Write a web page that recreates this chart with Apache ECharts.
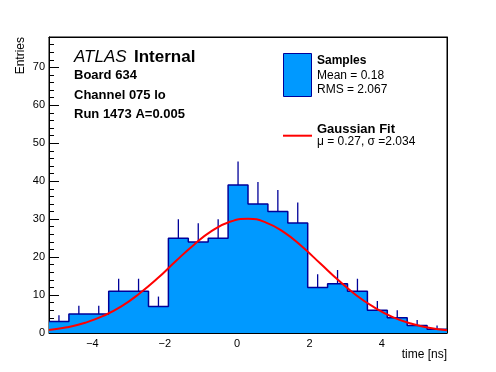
<!DOCTYPE html>
<html><head><meta charset="utf-8">
<script src="https://cdn.jsdelivr.net/npm/echarts@6/dist/echarts.min.js"></script>
<style>html,body{margin:0;padding:0;background:#fff}#c{width:496px;height:372px}</style>
</head><body><div id="c"></div>
<script>
// ---- data ----
const binEdges = [-5.2,-4.65,-4.1,-3.55,-3.0,-2.45,-1.9,-1.35,-0.8,-0.25,0.3,0.85,1.4,1.95,2.5,3.05,3.6,4.15,4.7,5.25,5.8];
const counts   = [3,5,5,11,11,7,25,24,25,39,34,32,29,12,13,11,6,4,2,1];
const errUp    = [1.7,2.2,2.2,3.3,3.3,2.6,5.0,4.9,5.0,6.2,5.8,5.7,5.4,3.5,3.6,3.3,2.4,2.0,1.4,1.0];
const fitX = [-5.2,-4.7,-4.2,-3.7,-3.2,-2.7,-2.2,-1.7,-1.2,-0.7,-0.2,0.3,0.8,1.3,1.8,2.3,2.8,3.3,3.8,4.3,4.8,5.3,5.8];
const fitY = [0.8,1.5,2.7,4.5,7.0,10.4,14.4,18.9,23.2,26.9,29.3,30.1,29.1,26.5,22.7,18.3,13.9,9.9,6.7,4.2,2.5,1.4,0.75];
const xMajorTicks = [-4,-2,0,2,4];
const xMinorTicks = [-5,-4.5,-4,-3.5,-3,-2.5,-2,-1.5,-1,-0.5,0,0.5,1,1.5,2,2.5,3,3.5,4,4.5,5,5.5];
const yMajorTicks = [0,10,20,30,40,50,60,70];
const yMinorTicks = [0,2,4,6,8,10,12,14,16,18,20,22,24,26,28,30,32,34,36,38,40,42,44,46,48,50,52,54,56,58,60,62,64,66,68,70,72,74,76];
const xRange = [-5.2, 5.8];
const yRange = [0, 78];

const FONT = "'Liberation Sans', Arial, Helvetica, sans-serif";
const FILL = '#0099ff', EDGE = '#000099';

const histData = binEdges.map((e, i) => [e, counts[Math.min(i, counts.length - 1)]]);
const errData = counts.map((c, i) => [(binEdges[i] + binEdges[i + 1]) / 2, c, c + errUp[i]]);
const fitData = fitX.map((x, i) => [x, fitY[i]]);

const chart = echarts.init(document.getElementById('c'), null, {renderer: 'canvas'});
const blank = {axisLine:{show:false}, axisTick:{show:false}, axisLabel:{show:false}, splitLine:{show:false}};
chart.setOption({
  animation: false,
  grid: {left: 49, right: 49, top: 37, bottom: 39, show: true, borderColor: '#000', borderWidth: 1, backgroundColor: 'transparent'},
  xAxis: [
    {type:'value', min:xRange[0], max:xRange[1], position:'bottom',
     axisLine:{show:true, onZero:false, lineStyle:{color:'#000', width:1}},
     axisTick:{show:true, inside:true, length:9, customValues:xMajorTicks, lineStyle:{color:'#000'}},
     axisLabel:{show:true, customValues:xMajorTicks, margin:5, fontSize:11, color:'#000', fontFamily:FONT,
       formatter: v => String(v).replace('-', '\u2212')},
     splitLine:{show:false}},
    {type:'value', min:xRange[0], max:xRange[1], position:'bottom',
     axisLine:{show:false, onZero:false},
     axisTick:{show:true, inside:true, length:5, customValues:xMinorTicks, lineStyle:{color:'#000'}},
     axisLabel:{show:false}, splitLine:{show:false}},
    Object.assign({type:'value', min:xRange[0], max:xRange[1], position:'top'}, blank,
      {axisLine:{show:true, onZero:false, lineStyle:{color:'#000'}}})
  ],
  yAxis: [
    {type:'value', min:yRange[0], max:yRange[1], position:'left',
     axisLine:{show:true, onZero:false, lineStyle:{color:'#000', width:1}},
     axisTick:{show:true, inside:true, length:10, customValues:yMajorTicks, lineStyle:{color:'#000'}},
     axisLabel:{show:true, customValues:yMajorTicks, margin:4, fontSize:11, color:'#000', fontFamily:FONT},
     splitLine:{show:false}},
    {type:'value', min:yRange[0], max:yRange[1], position:'left',
     axisLine:{show:false, onZero:false},
     axisTick:{show:true, inside:true, length:5, customValues:yMinorTicks, lineStyle:{color:'#000'}},
     axisLabel:{show:false}, splitLine:{show:false}},
    Object.assign({type:'value', min:yRange[0], max:yRange[1], position:'right'}, blank,
      {axisLine:{show:true, onZero:false, lineStyle:{color:'#000'}}})
  ],
  series: [
    {type:'line', name:'Samples', xAxisIndex:0, yAxisIndex:0, data:histData, step:'end', symbol:'none',
     lineStyle:{color:EDGE, width:1.5}, areaStyle:{color:FILL, opacity:1}, z:2, silent:true},
    {type:'custom', name:'err', xAxisIndex:0, yAxisIndex:0, data:errData, z:3, silent:true,
     encode:{x:0, y:[1,2]},
     renderItem:(params, api) => {
       const p0 = api.coord([api.value(0), api.value(1)]);
       const p1 = api.coord([api.value(0), api.value(2)]);
       return {type:'line', shape:{x1:p0[0], y1:p0[1], x2:p1[0], y2:p1[1]}, style:{stroke:EDGE, lineWidth:1.3}};
     }},
    {type:'line', name:'Gaussian Fit', xAxisIndex:0, yAxisIndex:0, data:fitData, smooth:true, symbol:'none',
     lineStyle:{color:'#ff0000', width:2}, z:4, silent:true}
  ],
  graphic: [
    {type:'text', x:20.5, y:37, rotation:Math.PI/2, style:{text:'Entries', font:'12px ' + FONT, fill:'#000', align:'right', verticalAlign:'middle'}},
    {type:'text', x:447, y:355, style:{text:'time [ns]', font:'12px ' + FONT, fill:'#000', align:'right', verticalAlign:'middle'}},
    {type:'text', x:74, y:57.5, style:{text:'ATLAS', font:'italic 17px ' + FONT, fill:'#000', verticalAlign:'middle'}},
    {type:'text', x:134, y:57.5, style:{text:'Internal', font:'bold 17px ' + FONT, fill:'#000', verticalAlign:'middle'}},
    {type:'text', x:74, y:75.5, style:{text:'Board 634', font:'bold 13px ' + FONT, fill:'#000', verticalAlign:'middle'}},
    {type:'text', x:74, y:95, style:{text:'Channel 075 lo', font:'bold 13px ' + FONT, fill:'#000', verticalAlign:'middle'}},
    {type:'text', x:74, y:114.3, style:{text:'Run 1473 A=0.005', font:'bold 13px ' + FONT, fill:'#000', verticalAlign:'middle'}},
    {type:'rect', shape:{x:283.5, y:53.5, width:28, height:43}, style:{fill:FILL, stroke:EDGE, lineWidth:1}},
    {type:'text', x:317, y:61, style:{text:'Samples', font:'bold 12px ' + FONT, fill:'#000', verticalAlign:'middle'}},
    {type:'text', x:317, y:75.5, style:{text:'Mean = 0.18', font:'12px ' + FONT, fill:'#000', verticalAlign:'middle'}},
    {type:'text', x:317, y:89.8, style:{text:'RMS = 2.067', font:'12px ' + FONT, fill:'#000', verticalAlign:'middle'}},
    {type:'line', shape:{x1:283, y1:135.7, x2:312, y2:135.7}, style:{stroke:'#ff0000', lineWidth:2}},
    {type:'text', x:317, y:129, style:{text:'Gaussian Fit', font:'bold 13px ' + FONT, fill:'#000', verticalAlign:'middle'}},
    {type:'text', x:317, y:142, style:{text:'\u03bc = 0.27, \u03c3 =2.034', font:'12px ' + FONT, fill:'#000', verticalAlign:'middle'}}
  ]
});
</script></body></html>
